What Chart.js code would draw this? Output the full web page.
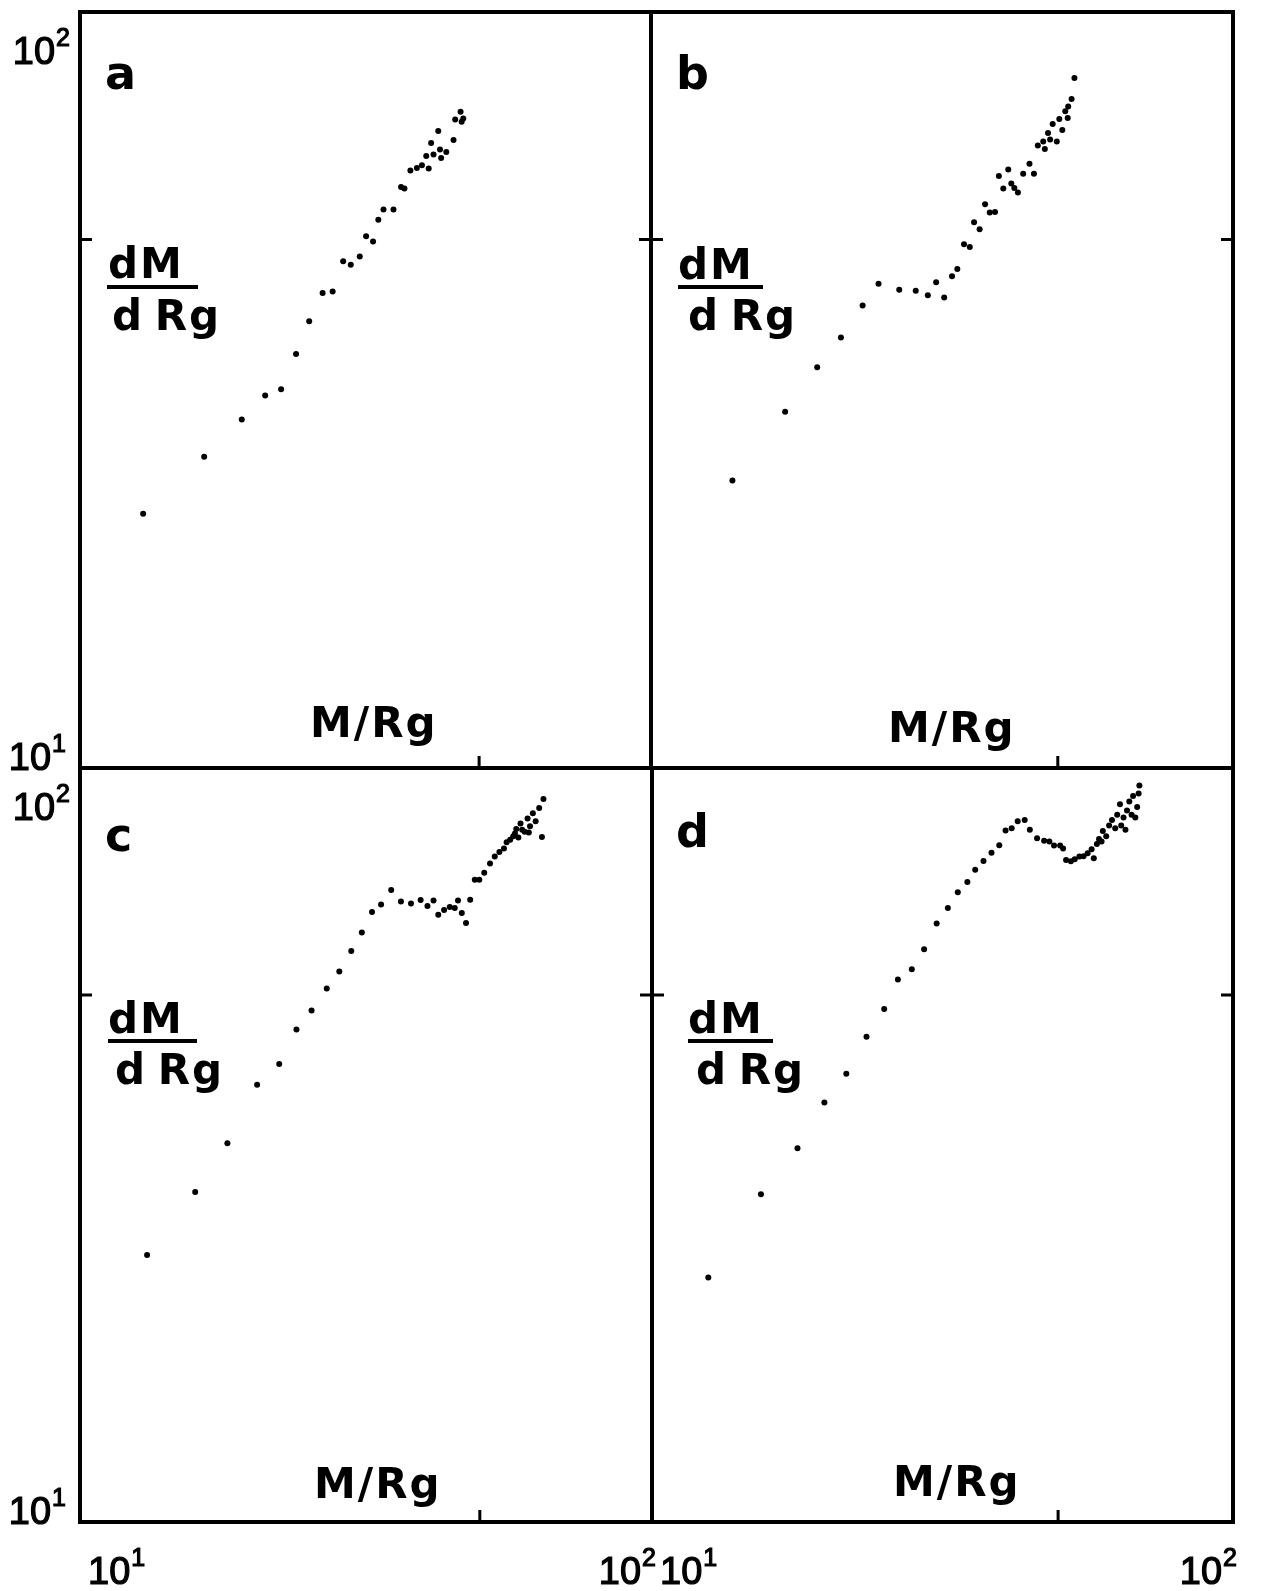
<!DOCTYPE html>
<html>
<head>
<meta charset="utf-8">
<script src="https://cdn.jsdelivr.net/npm/chart.js@4.4.1/dist/chart.umd.min.js"></script>
<style>
  body { margin: 0; background: #fff; }
  #wrap { position: relative; width: 1276px; height: 1591px; overflow: hidden; font-family: "DejaVu Sans", sans-serif; }
  canvas { position: absolute; left: 0; top: 0; }
  .t { position: absolute; line-height: 1; white-space: nowrap; color: #000; font-weight: bold; }
  .letter { font-size: 46px; }
  .lab { font-size: 42px; letter-spacing: 2px; word-spacing: -6px; }
  .bar { position: absolute; height: 4px; background: #000; }
</style>
</head>
<body>
<div id="wrap">
  <canvas id="pa" width="1276" height="1591"></canvas>
  <canvas id="pb" width="1276" height="1591"></canvas>
  <canvas id="pc" width="1276" height="1591"></canvas>
  <canvas id="pd" width="1276" height="1591"></canvas>
</div>
<script>
// axis range and ticks (log-log, both axes 10 .. 100)
const axisMin = 10, axisMax = 100;
const midTick = 50;
const tickValues = [10, 100];
const tickBase = '10';
const tickExps = ['1', '2'];

// panel a
const aX = [12.9, 16.5, 19.2, 21.1, 22.5, 23.9, 25.2, 26.6, 27.7, 28.9, 29.8, 30.9, 31.7, 32.6, 33.3, 34.0, 35.4, 36.5, 37.0, 37.9, 38.9, 39.7, 40.4, 40.8, 41.2, 41.6, 42.4, 42.7, 42.9, 43.8, 45.1, 45.4, 46.4, 46.6, 46.9];
const aY = [21.7, 25.8, 28.9, 31.1, 31.7, 35.3, 39.0, 42.5, 42.7, 46.8, 46.3, 47.5, 50.5, 49.7, 53.1, 54.8, 54.8, 58.7, 58.4, 61.7, 62.2, 62.7, 64.5, 62.1, 67.1, 64.8, 69.6, 65.8, 64.1, 65.3, 67.7, 72.1, 73.8, 71.6, 72.3];

// panel b
const bX = [13.8, 17.0, 19.3, 21.2, 23.1, 24.6, 26.7, 28.5, 29.9, 30.9, 31.9, 32.9, 33.6, 34.5, 35.3, 35.9, 36.7, 37.5, 38.2, 39.0, 39.6, 40.3, 41.1, 41.6, 42.1, 42.7, 43.6, 44.7, 45.5, 46.2, 47.2, 47.5, 48.1, 48.5, 49.0, 49.8, 50.3, 50.9, 51.5, 52.0, 52.1, 52.8, 53.4];
const bY = [24.0, 29.6, 33.9, 37.1, 40.9, 43.7, 42.9, 42.8, 42.2, 43.9, 41.9, 44.7, 45.7, 49.3, 48.9, 52.7, 51.6, 55.7, 54.3, 54.4, 60.7, 58.4, 61.9, 59.3, 58.5, 57.7, 61.1, 63.0, 61.1, 66.6, 67.4, 65.9, 69.2, 67.8, 71.1, 67.4, 72.2, 69.8, 73.9, 72.4, 75.0, 76.7, 81.8];

// panel c
const cX = [13.1, 15.9, 18.1, 20.4, 22.3, 23.9, 25.4, 27.0, 28.4, 29.8, 31.1, 32.4, 33.6, 35.0, 36.4, 37.9, 39.4, 40.5, 41.5, 42.3, 43.3, 44.3, 45.2, 45.8, 46.5, 47.3, 48.1, 49.0, 49.9, 50.9, 52.1, 53.1, 54.1, 55.1, 55.7, 56.5, 57.2, 57.9, 58.4, 58.9, 59.9, 60.6, 61.2, 61.9, 62.6, 63.5, 64.2, 64.6, 57.6, 59.3, 60.9];
const cY = [22.6, 27.4, 31.8, 38.0, 40.5, 45.0, 47.7, 51.0, 53.7, 57.2, 60.5, 64.4, 65.9, 68.9, 66.5, 66.1, 66.8, 65.6, 66.7, 63.9, 64.8, 65.4, 65.2, 66.7, 64.2, 62.3, 66.9, 71.1, 71.1, 72.6, 74.7, 76.3, 77.4, 78.2, 79.7, 80.3, 81.2, 83.0, 80.9, 84.4, 82.3, 85.7, 83.7, 87.1, 85.0, 88.5, 81.0, 91.0, 81.9, 82.8, 82.1];

// panel d
const dX = [12.5, 15.4, 17.8, 19.8, 21.6, 23.4, 25.1, 26.5, 28.0, 29.4, 30.9, 32.3, 33.6, 34.9, 36.0, 37.2, 38.4, 39.6, 40.6, 41.6, 42.6, 43.8, 44.7, 46.0, 47.3, 48.3, 49.2, 50.4, 51.0, 51.6, 52.6, 53.4, 54.4, 55.3, 56.2, 57.1, 57.6, 58.3, 58.8, 59.4, 59.7, 60.5, 61.2, 61.9, 62.7, 63.2, 63.9, 64.2, 64.8, 65.3, 65.7, 66.3, 66.9, 67.3, 67.9, 68.4, 68.8, 69.0];
const dY = [21.1, 27.2, 31.3, 36.0, 39.3, 44.0, 47.9, 52.4, 54.1, 57.5, 62.2, 65.2, 68.4, 70.6, 73.3, 75.3, 77.2, 79.0, 82.6, 83.2, 85.0, 85.3, 82.8, 80.7, 80.1, 79.9, 78.9, 78.9, 78.2, 75.5, 75.2, 75.7, 76.3, 76.4, 77.1, 78.0, 75.9, 79.3, 80.5, 79.9, 82.5, 81.2, 83.9, 85.3, 83.2, 86.7, 89.5, 83.9, 86.0, 82.8, 87.8, 90.3, 86.7, 91.8, 86.0, 88.8, 92.5, 94.8];

// "10" with a raised exponent
function drawPow(ctx, exp, x, y, align) {
  const big = '38px "Liberation Sans"', small = '25px "Liberation Sans"';
  ctx.font = big;
  const bw = ctx.measureText(tickBase).width;
  ctx.font = small;
  const ew = ctx.measureText(exp).width;
  const left = align === 'right' ? x - bw - ew - 1 : x;
  ctx.textBaseline = 'middle';
  ctx.textAlign = 'left';
  ctx.lineWidth = 1.2;
  ctx.font = big;
  ctx.fillText(tickBase, left, y);
  ctx.strokeText(tickBase, left, y);
  ctx.font = small;
  ctx.fillText(exp, left + bw + 1, y - 15);
  ctx.strokeText(exp, left + bw + 1, y - 15);
}

// box, inward ticks at 50, tick labels
const framePlugin = {
  id: 'frame',
  afterDraw(chart, args, opts) {
    const { ctx, chartArea: a, scales: { x, y } } = chart;
    ctx.save();
    ctx.strokeStyle = '#000';
    ctx.fillStyle = '#000';
    ctx.lineWidth = 4;
    ctx.strokeRect(a.left, a.top, a.right - a.left, a.bottom - a.top);
    const tx = x.getPixelForValue(midTick), ty = y.getPixelForValue(midTick);
    ctx.lineWidth = 3;
    ctx.beginPath();
    ctx.moveTo(tx, a.bottom); ctx.lineTo(tx, a.bottom - 12);
    ctx.moveTo(a.left, ty); ctx.lineTo(a.left + 12, ty);
    ctx.moveTo(a.right, ty); ctx.lineTo(a.right - 12, ty);
    ctx.stroke();
    if (opts.yLabels) {
      drawPow(ctx, tickExps[0], a.left - 14, y.getPixelForValue(tickValues[0]) - 8, 'right');
      drawPow(ctx, tickExps[1], a.left - 10, y.getPixelForValue(tickValues[1]) + 42, 'right');
    }
    if (opts.xLabels) {
      const ly = a.bottom + 52;
      drawPow(ctx, tickExps[0], x.getPixelForValue(tickValues[0]) + 8, ly, 'left');
      drawPow(ctx, tickExps[1], x.getPixelForValue(tickValues[1]) + 4, ly, 'right');
    }
    ctx.restore();
  }
};

function makePanel(id, box, xs, ys, opts) {
  const pts = xs.map((v, i) => ({ x: v, y: ys[i] }));
  return new Chart(document.getElementById(id), {
    type: 'scatter',
    data: { datasets: [{ data: pts, pointRadius: 3, pointBackgroundColor: '#000', pointBorderWidth: 0 }] },
    options: {
      responsive: false,
      animation: false,
      events: [],
      layout: { padding: { left: box[0], top: box[1], right: 1276 - box[2], bottom: 1591 - box[3] } },
      plugins: { legend: { display: false }, tooltip: { enabled: false }, frame: opts },
      scales: {
        x: { type: 'logarithmic', min: axisMin, max: axisMax, display: false },
        y: { type: 'logarithmic', min: axisMin, max: axisMax, display: false }
      }
    },
    plugins: [framePlugin]
  });
}

// left, top, right, bottom of each frame
makePanel('pa', [80, 12, 651, 768], aX, aY, { yLabels: true });
makePanel('pb', [651, 12, 1233, 768], bX, bY, {});
makePanel('pc', [80, 768, 652, 1522], cX, cY, { yLabels: true, xLabels: true });
makePanel('pd', [652, 768, 1233, 1522], dX, dY, { xLabels: true });

// text labels, placed by baseline
const wrap = document.getElementById('wrap');
function addText(txt, cls, left, baseline, size) {
  const el = document.createElement('div');
  el.className = 't ' + cls;
  el.textContent = txt;
  el.style.left = left + 'px';
  el.style.top = (baseline - size * 0.846) + 'px';
  wrap.appendChild(el);
}
function addBar(left, top, width) {
  const el = document.createElement('div');
  el.className = 'bar';
  el.style.left = left + 'px';
  el.style.top = top + 'px';
  el.style.width = width + 'px';
  wrap.appendChild(el);
}
const panels = [
  { letter: 'a', lx: 105, ly: 89, fx: 108, fy: 279, bar: [107, 285, 91], dx: 112, dy: 331, mx: 310, my: 738 },
  { letter: 'b', lx: 676, ly: 89, fx: 678, fy: 280, bar: [678, 285, 85], dx: 688, dy: 331, mx: 888, my: 743 },
  { letter: 'c', lx: 105, ly: 851, fx: 108, fy: 1034, bar: [108, 1039, 89], dx: 115, dy: 1085, mx: 314, my: 1499 },
  { letter: 'd', lx: 676, ly: 847, fx: 688, fy: 1034, bar: [688, 1039, 85], dx: 696, dy: 1085, mx: 893, my: 1497 }
];
panels.forEach(p => {
  addText(p.letter, 'letter', p.lx, p.ly, 46);
  addText('dM', 'lab', p.fx, p.fy, 42);
  addBar(p.bar[0], p.bar[1], p.bar[2]);
  addText('d Rg', 'lab', p.dx, p.dy, 42);
  addText('M/Rg', 'lab', p.mx, p.my, 42);
});
</script>
</body>
</html>
